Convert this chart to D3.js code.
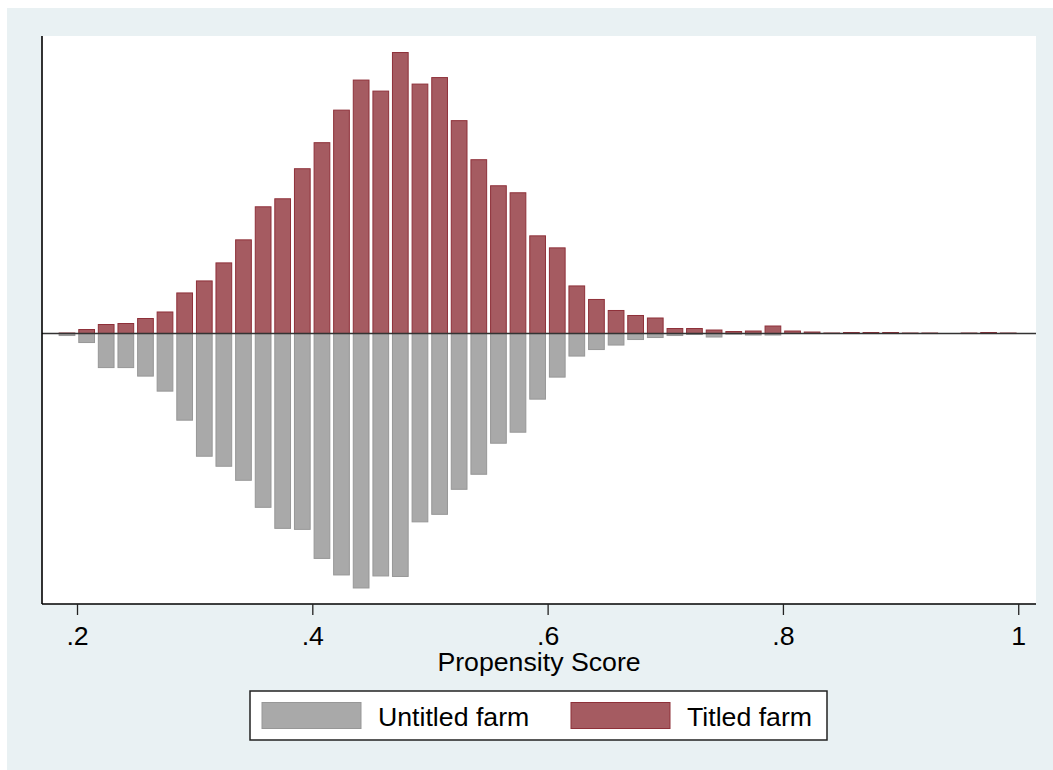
<!DOCTYPE html>
<html>
<head>
<meta charset="utf-8">
<script src="https://cdn.jsdelivr.net/npm/d3@7"></script>
<style>
  html, body { margin: 0; padding: 0; background: #ffffff; }
  svg { display: block; }
  text { font-family: "Liberation Sans", Arial, Helvetica, sans-serif; fill: #000; }
</style>
</head>
<body>
<script>
// ---- Data ----
const binCenters = [0.1915, 0.2082, 0.2248, 0.2415, 0.2582, 0.2748, 0.2915, 0.3082, 0.3248, 0.3415,
                    0.3582, 0.3748, 0.3915, 0.4082, 0.4248, 0.4415, 0.4582, 0.4748, 0.4915, 0.5082,
                    0.5248, 0.5415, 0.5582, 0.5748, 0.5915, 0.6082, 0.6248, 0.6415, 0.6582, 0.6748,
                    0.6915, 0.7082, 0.7248, 0.7415, 0.7582, 0.7748, 0.7915, 0.8082, 0.8248, 0.8415,
                    0.8582, 0.8748, 0.8915, 0.9082, 0.9248, 0.9415, 0.9582, 0.9748, 0.9915];
// Titled farm density (drawn upward)
const titledDensity = [0.01, 0.08, 0.18, 0.20, 0.30, 0.43, 0.81, 1.05, 1.41, 1.87,
                       2.53, 2.69, 3.29, 3.81, 4.46, 5.06, 4.84, 5.61, 4.98, 5.11,
                       4.25, 3.47, 2.95, 2.81, 1.95, 1.71, 0.95, 0.68, 0.46, 0.36,
                       0.31, 0.10, 0.10, 0.07, 0.04, 0.05, 0.15, 0.05, 0.03, 0.01,
                       0.02, 0.02, 0.02, 0.01, 0.01, 0.00, 0.01, 0.02, 0.01];
// Untitled farm density (drawn downward)
const untitledDensity = [0.04, 0.18, 0.68, 0.68, 0.85, 1.15, 1.73, 2.45, 2.65, 2.93,
                         3.47, 3.89, 3.91, 4.49, 4.82, 5.08, 4.84, 4.85, 3.76, 3.61,
                         3.11, 2.81, 2.19, 1.97, 1.31, 0.87, 0.45, 0.32, 0.23, 0.12,
                         0.08, 0.04, 0.02, 0.07, 0.01, 0.03, 0.03, 0.00, 0.00, 0.00,
                         0.00, 0.00, 0.00, 0.00, 0.00, 0.00, 0.00, 0.00, 0.00];
const xTicks = [0.2, 0.4, 0.6, 0.8, 1.0];
const xTickLabels = [".2", ".4", ".6", ".8", "1"];
const xTitle = "Propensity Score";
const seriesNames = ["Untitled farm", "Titled farm"];

// ---- Layout ----
const W = 1053, H = 770;
const plot = { left: 42, right: 1036, top: 36, bottom: 604 };
const FS = 26.7;
const colors = {
  bg: "#e9f1f3",
  titledFill: "#a55b61", titledStroke: "#8e3039",
  untitledFill: "#a9a9a9", untitledStroke: "#979797"
};

const svg = d3.select("body").append("svg").attr("width", W).attr("height", H);

// outer graph region
svg.append("rect").attr("x", 7).attr("y", 8).attr("width", W - 7).attr("height", H - 8)
  .attr("fill", colors.bg);
// plot region
svg.append("rect").attr("x", plot.left).attr("y", plot.top)
  .attr("width", plot.right - plot.left).attr("height", plot.bottom - plot.top)
  .attr("fill", "#ffffff");

const x = d3.scaleLinear().domain([0.17025, 1.0151]).range([plot.left, plot.right]);
const y = d3.scaleLinear().domain([-5.4, 5.94]).range([plot.bottom, plot.top]);

const binStep = binCenters[1] - binCenters[0];
const barW = (x(binCenters[0] + binStep * 0.8) - x(binCenters[0]));

const data = binCenters.map((c, i) => ({ c, t: titledDensity[i], u: untitledDensity[i] }));

// Untitled (downward)
svg.append("g").selectAll("rect").data(data.filter(d => d.u > 0)).join("rect")
  .attr("x", d => x(d.c) - barW / 2)
  .attr("y", y(0))
  .attr("width", barW)
  .attr("height", d => y(-d.u) - y(0))
  .attr("fill", colors.untitledFill)
  .attr("stroke", colors.untitledStroke)
  .attr("stroke-width", 1);

// Titled (upward)
svg.append("g").selectAll("rect").data(data.filter(d => d.t > 0)).join("rect")
  .attr("x", d => x(d.c) - barW / 2)
  .attr("y", d => y(d.t))
  .attr("width", barW)
  .attr("height", d => y(0) - y(d.t))
  .attr("fill", colors.titledFill)
  .attr("stroke", colors.titledStroke)
  .attr("stroke-width", 1);

// zero line
svg.append("line")
  .attr("x1", plot.left).attr("x2", plot.right)
  .attr("y1", y(0)).attr("y2", y(0))
  .attr("stroke", "#333333").attr("stroke-width", 1.5);

// Left axis line (no ticks)
svg.append("line")
  .attr("x1", plot.left).attr("x2", plot.left)
  .attr("y1", plot.top).attr("y2", plot.bottom)
  .attr("stroke", "#000").attr("stroke-width", 1.6);

// Bottom axis
const xAxis = d3.axisBottom(x).tickValues(xTicks)
  .tickFormat((d, i) => xTickLabels[i]).tickSize(11).tickSizeOuter(0).tickPadding(6);
const gx = svg.append("g").attr("transform", `translate(0,${plot.bottom})`).call(xAxis);
gx.select(".domain").attr("stroke", "#000").attr("stroke-width", 1.6)
  .attr("d", `M${plot.left},0H${plot.right}`);
gx.selectAll(".tick line").attr("stroke", "#222").attr("stroke-width", 1.3);
gx.selectAll(".tick text").attr("font-size", FS).attr("fill", "#000")
  .attr("font-family", '"Liberation Sans", Arial, sans-serif')
  .attr("dy", null).attr("y", 41);

// Axis title
svg.append("text")
  .attr("x", (plot.left + plot.right) / 2).attr("y", 670.5)
  .attr("text-anchor", "middle").attr("font-size", FS)
  .text(xTitle);

// Legend
const lg = svg.append("g");
lg.append("rect").attr("x", 250).attr("y", 691).attr("width", 577).attr("height", 49)
  .attr("fill", "#fff").attr("stroke", "#222").attr("stroke-width", 1.5);
const legendItems = [
  { name: seriesNames[0], fill: colors.untitledFill, stroke: colors.untitledStroke, sx: 262, tx: 378 },
  { name: seriesNames[1], fill: colors.titledFill, stroke: colors.titledStroke, sx: 571, tx: 687 }
];
legendItems.forEach(it => {
  lg.append("rect").attr("x", it.sx).attr("y", 702.5).attr("width", 99).attr("height", 26)
    .attr("fill", it.fill).attr("stroke", it.stroke).attr("stroke-width", 1);
  lg.append("text").attr("x", it.tx).attr("y", 726).attr("font-size", FS).text(it.name);
});
</script>
</body>
</html>
